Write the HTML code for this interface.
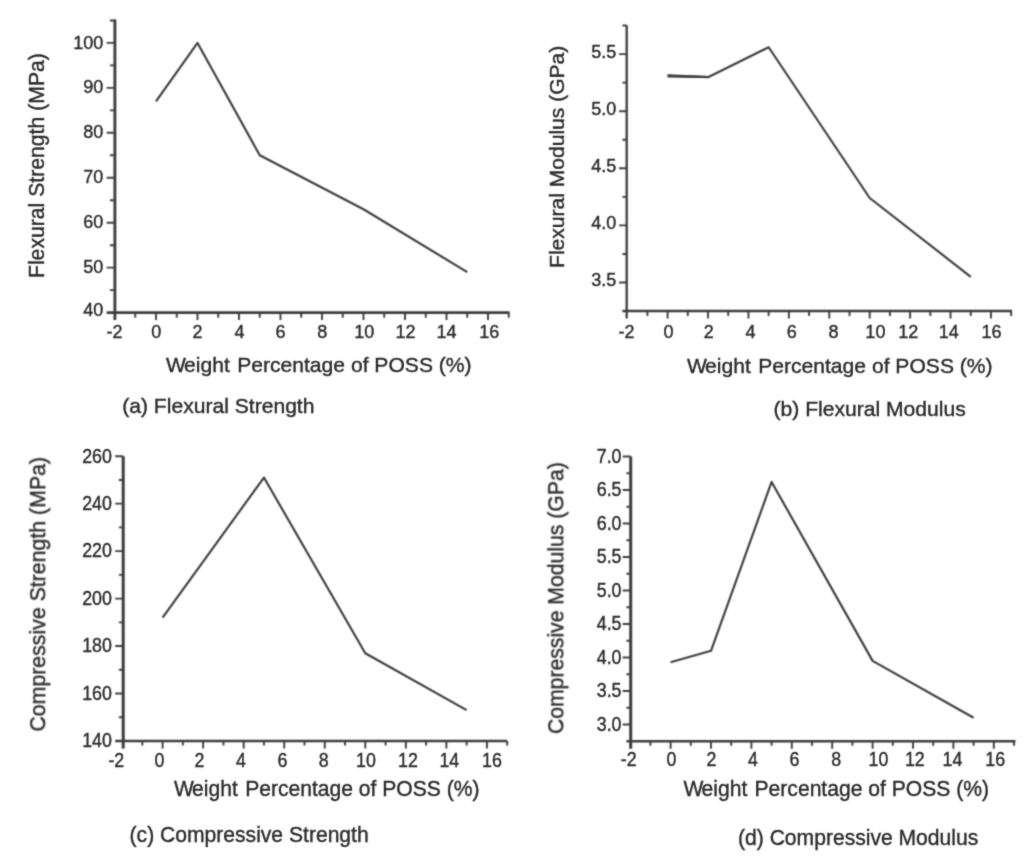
<!DOCTYPE html>
<html lang="en">
<head>
<meta charset="utf-8">
<title>Mechanical properties vs. weight percentage of POSS</title>
<style>
html,body{margin:0;padding:0;background:#fff;}
body{width:1024px;height:861px;overflow:hidden;}
svg{display:block;font-family:"Liberation Sans", Arial, Helvetica, sans-serif;}
.ax path{stroke:#3d3d3d;fill:none;stroke-linecap:butt;}
.dl{stroke:#3d3d3d;fill:none;stroke-linejoin:round;stroke-linecap:butt;}
.tk text{fill:#2a2a2a;stroke:#2a2a2a;stroke-width:0.38px;}
.lb{fill:#2a2a2a;stroke:#2a2a2a;stroke-width:0.38px;}
</style>
</head>
<body>
<svg width="1024" height="861" viewBox="0 0 1024 861">
<defs><filter id="soft" x="0" y="0" width="1024" height="861" filterUnits="userSpaceOnUse"><feConvolveMatrix order="3" kernelMatrix="0.0400 0.1200 0.0400 0.1200 0.3600 0.1200 0.0400 0.1200 0.0400" edgeMode="none"/></filter><filter id="softt" x="0" y="0" width="1024" height="861" filterUnits="userSpaceOnUse"><feConvolveMatrix order="3" kernelMatrix="0.0225 0.1050 0.0225 0.1050 0.4900 0.1050 0.0225 0.1050 0.0225" edgeMode="none"/></filter></defs>
<rect width="1024" height="861" fill="#ffffff"/>
<g filter="url(#soft)">
<g class="ax" stroke-width="2.9">
<path stroke-width="2.9" d="M114.9 19.5V320"/>
<path d="M106.7 312.6H509.5"/>
</g>
<g class="ax" stroke-width="1.9">
<path d="M106.7 267.65H114.9M106.7 222.7H114.9M106.7 177.75H114.9M106.7 132.8H114.9M106.7 87.85H114.9M106.7 42.9H114.9M109.9 290.12H114.9M109.9 245.18H114.9M109.9 200.23H114.9M109.9 155.28H114.9M109.9 110.33H114.9M109.9 65.38H114.9M109.9 20.43H114.9"/>
<path d="M156 312.6v7.4M197.5 312.6v7.4M239 312.6v7.4M280.5 312.6v7.4M322 312.6v7.4M363.5 312.6v7.4M405 312.6v7.4M446.5 312.6v7.4M488 312.6v7.4M135.25 312.6v5.2M176.75 312.6v5.2M218.25 312.6v5.2M259.75 312.6v5.2M301.25 312.6v5.2M342.75 312.6v5.2M384.25 312.6v5.2M425.75 312.6v5.2M467.25 312.6v5.2M508.75 312.6v5.2"/>
</g>
<polyline class="dl" stroke-width="2.15" points="156,101.34 197.5,42.9 259.75,155.28 363.5,209.22 467.25,272.15"/>
<g class="ax" stroke-width="2.3">
<path stroke-width="2.3" d="M626.7 25.3V318.4"/>
<path d="M622.4 311H1012"/>
</g>
<g class="ax" stroke-width="1.9">
<path d="M619.1 282.5H626.7M619.1 225.4H626.7M619.1 168.3H626.7M619.1 111.2H626.7M619.1 54.1H626.7M622.4 253.95H626.7M622.4 196.85H626.7M622.4 139.75H626.7M622.4 82.65H626.7M622.4 25.55H626.7"/>
<path d="M667.6 311v7.4M708.02 311v7.4M748.44 311v7.4M788.86 311v7.4M829.28 311v7.4M869.7 311v7.4M910.12 311v7.4M950.54 311v7.4M990.96 311v7.4M647.39 311v5M687.81 311v5M728.23 311v5M768.65 311v5M809.07 311v5M849.49 311v5M889.91 311v5M930.33 311v5M970.75 311v5M1011.17 311v5"/>
</g>
<polyline class="dl" stroke-width="2.15" points="667.6,75.8 708.02,77.17 768.65,47.25 869.7,197.99 970.75,276.79"/>
<path fill="#3d3d3d" d="M667.6 74.2L708 75.9L708 78L667.6 77.6Z"/>
<g class="ax" stroke-width="2.4">
<path stroke-width="3.0" d="M123.2 456.2V748.6"/>
<path d="M115.2 741H507"/>
</g>
<g class="ax" stroke-width="1.9">
<path d="M115.2 693.53H123.2M115.2 646.07H123.2M115.2 598.6H123.2M115.2 551.14H123.2M115.2 503.67H123.2M115.2 456.2H123.2M118.9 717.27H123.2M118.9 669.8H123.2M118.9 622.34H123.2M118.9 574.87H123.2M118.9 527.4H123.2M118.9 479.94H123.2"/>
<path d="M162.6 741v7.6M203.14 741v7.6M243.68 741v7.6M284.22 741v7.6M324.76 741v7.6M365.3 741v7.6M405.84 741v7.6M446.38 741v7.6M486.92 741v7.6M142.33 741v4.5M182.87 741v4.5M223.41 741v4.5M263.95 741v4.5M304.49 741v4.5M345.03 741v4.5M385.57 741v4.5M426.11 741v4.5M466.65 741v4.5M507.19 741v4.5"/>
</g>
<polyline class="dl" stroke-width="2.15" points="162.6,617.59 263.95,477.56 365.3,653.19 466.65,710.15"/>
<g class="ax" stroke-width="2.4">
<path stroke-width="3.0" d="M630.7 456.5V748.8"/>
<path d="M626.4 741.2H1015.5"/>
</g>
<g class="ax" stroke-width="1.9">
<path d="M622.7 724.5H630.7M622.7 691H630.7M622.7 657.5H630.7M622.7 624H630.7M622.7 590.5H630.7M622.7 557H630.7M622.7 523.5H630.7M622.7 490H630.7M622.7 456.5H630.7M626.4 707.75H630.7M626.4 674.25H630.7M626.4 640.75H630.7M626.4 607.25H630.7M626.4 573.75H630.7M626.4 540.25H630.7M626.4 506.75H630.7M626.4 473.25H630.7"/>
<path d="M670.6 741.2v7.6M711 741.2v7.6M751.4 741.2v7.6M791.8 741.2v7.6M832.2 741.2v7.6M872.6 741.2v7.6M913 741.2v7.6M953.4 741.2v7.6M993.8 741.2v7.6M650.4 741.2v4.5M690.8 741.2v4.5M731.2 741.2v4.5M771.6 741.2v4.5M812 741.2v4.5M852.4 741.2v4.5M892.8 741.2v4.5M933.2 741.2v4.5M973.6 741.2v4.5M1014 741.2v4.5"/>
</g>
<polyline class="dl" stroke-width="2.15" points="670.6,662.19 711,650.8 771.6,481.96 872.6,660.85 973.6,717.8"/>
</g>
<g filter="url(#softt)">
<g class="tk" text-anchor="end" font-size="19.2">
<text transform="translate(103.4 315.6) scale(0.94 1)">40</text>
<text transform="translate(103.4 273.25) scale(0.94 1)">50</text>
<text transform="translate(103.4 228.3) scale(0.94 1)">60</text>
<text transform="translate(103.4 183.35) scale(0.94 1)">70</text>
<text transform="translate(103.4 138.4) scale(0.94 1)">80</text>
<text transform="translate(103.4 93.45) scale(0.94 1)">90</text>
<text transform="translate(103.4 48.5) scale(0.94 1)">100</text>
</g>
<g class="tk" text-anchor="middle" font-size="19.2">
<text transform="translate(114.4 338.4) scale(0.94 1)">-2</text>
<text transform="translate(156.2 338.4) scale(0.94 1)">0</text>
<text transform="translate(197.4 338.4) scale(0.94 1)">2</text>
<text transform="translate(239.5 338.4) scale(0.94 1)">4</text>
<text transform="translate(280.5 338.4) scale(0.94 1)">6</text>
<text transform="translate(322.3 338.4) scale(0.94 1)">8</text>
<text transform="translate(364.3 338.4) scale(0.94 1)">10</text>
<text transform="translate(405.6 338.4) scale(0.94 1)">12</text>
<text transform="translate(446.6 338.4) scale(0.94 1)">14</text>
<text transform="translate(489.2 338.4) scale(0.94 1)">16</text>
</g>
<text class="lb" font-size="21.2" text-anchor="middle" transform="translate(44.1 165.6) rotate(-90)">Flexural Strength (MPa)</text>
<text class="lb" font-size="21.1" transform="translate(166 372.2)" dx="0 -1.5 0 0 0 0 1.5">Weight Percentage of POSS (%)</text>
<text class="lb" font-size="21.1" transform="translate(122.2 413.2)">(a) Flexural Strength</text>
<g class="tk" text-anchor="end" font-size="19.2">
<text transform="translate(616.4 286.1) scale(0.94 1)">3.5</text>
<text transform="translate(616.4 229) scale(0.94 1)">4.0</text>
<text transform="translate(616.4 171.9) scale(0.94 1)">4.5</text>
<text transform="translate(616.4 114.8) scale(0.94 1)">5.0</text>
<text transform="translate(616.4 57.7) scale(0.94 1)">5.5</text>
</g>
<g class="tk" text-anchor="middle" font-size="19.2">
<text transform="translate(626.5 338.4) scale(0.94 1)">-2</text>
<text transform="translate(668.4 338.4) scale(0.94 1)">0</text>
<text transform="translate(708.8 338.4) scale(0.94 1)">2</text>
<text transform="translate(750.6 338.4) scale(0.94 1)">4</text>
<text transform="translate(791.8 338.4) scale(0.94 1)">6</text>
<text transform="translate(833.5 338.4) scale(0.94 1)">8</text>
<text transform="translate(875.4 338.4) scale(0.94 1)">10</text>
<text transform="translate(908.2 338.4) scale(0.94 1)">12</text>
<text transform="translate(948.8 338.4) scale(0.94 1)">14</text>
<text transform="translate(991.6 338.4) scale(0.94 1)">16</text>
</g>
<text class="lb" font-size="21.05" text-anchor="middle" transform="translate(563.8 156.8) rotate(-90)">Flexural Modulus (GPa)</text>
<text class="lb" font-size="21.1" transform="translate(687 372.6)" dx="0 -1.5 0 0 0 0 1.5">Weight Percentage of POSS (%)</text>
<text class="lb" font-size="21.1" transform="translate(773.5 416)">(b) Flexural Modulus</text>
<g class="tk" text-anchor="end" font-size="20.0">
<text transform="translate(111.9 747.3) scale(0.89 1)">140</text>
<text transform="translate(111.9 699.83) scale(0.89 1)">160</text>
<text transform="translate(111.9 652.37) scale(0.89 1)">180</text>
<text transform="translate(111.9 604.9) scale(0.89 1)">200</text>
<text transform="translate(111.9 557.44) scale(0.89 1)">220</text>
<text transform="translate(111.9 509.97) scale(0.89 1)">240</text>
<text transform="translate(111.9 462.5) scale(0.89 1)">260</text>
</g>
<g class="tk" text-anchor="middle" font-size="20.0">
<text transform="translate(116.3 766.6) scale(0.89 1)">-2</text>
<text transform="translate(159.4 766.6) scale(0.89 1)">0</text>
<text transform="translate(199.5 766.6) scale(0.89 1)">2</text>
<text transform="translate(241 766.6) scale(0.89 1)">4</text>
<text transform="translate(282.4 766.6) scale(0.89 1)">6</text>
<text transform="translate(323.8 766.6) scale(0.89 1)">8</text>
<text transform="translate(366 766.6) scale(0.89 1)">10</text>
<text transform="translate(407.9 766.6) scale(0.89 1)">12</text>
<text transform="translate(449.3 766.6) scale(0.89 1)">14</text>
<text transform="translate(492 766.6) scale(0.89 1)">16</text>
</g>
<text class="lb" font-size="22.5" text-anchor="middle" transform="translate(45.2 594.3) rotate(-90) scale(0.947 1)">Compressive Strength (MPa)</text>
<text class="lb" font-size="22.5" transform="translate(174 795.6) scale(0.938 1)" dx="0 -1.5 0 0 0 0 1.5">Weight Percentage of POSS (%)</text>
<text class="lb" font-size="22.5" transform="translate(129.6 841.6) scale(0.938 1)">(c) Compressive Strength</text>
<g class="tk" text-anchor="end" font-size="20.0">
<text transform="translate(621.5 730.8) scale(0.89 1)">3.0</text>
<text transform="translate(621.5 697.3) scale(0.89 1)">3.5</text>
<text transform="translate(621.5 663.8) scale(0.89 1)">4.0</text>
<text transform="translate(621.5 630.3) scale(0.89 1)">4.5</text>
<text transform="translate(621.5 596.8) scale(0.89 1)">5.0</text>
<text transform="translate(621.5 563.3) scale(0.89 1)">5.5</text>
<text transform="translate(621.5 529.8) scale(0.89 1)">6.0</text>
<text transform="translate(621.5 496.3) scale(0.89 1)">6.5</text>
<text transform="translate(621.5 462.8) scale(0.89 1)">7.0</text>
</g>
<g class="tk" text-anchor="middle" font-size="20.0">
<text transform="translate(628.7 766.4) scale(0.89 1)">-2</text>
<text transform="translate(671.4 766.4) scale(0.89 1)">0</text>
<text transform="translate(711.5 766.4) scale(0.89 1)">2</text>
<text transform="translate(753 766.4) scale(0.89 1)">4</text>
<text transform="translate(794.4 766.4) scale(0.89 1)">6</text>
<text transform="translate(836.3 766.4) scale(0.89 1)">8</text>
<text transform="translate(878.4 766.4) scale(0.89 1)">10</text>
<text transform="translate(914.8 766.4) scale(0.89 1)">12</text>
<text transform="translate(952.5 766.4) scale(0.89 1)">14</text>
<text transform="translate(995.2 766.4) scale(0.89 1)">16</text>
</g>
<text class="lb" font-size="22.5" text-anchor="middle" transform="translate(563.3 598.1) rotate(-90) scale(0.942 1)">Compressive Modulus (GPa)</text>
<text class="lb" font-size="22.5" transform="translate(683.4 795.6) scale(0.938 1)" dx="0 -1.5 0 0 0 0 1.5">Weight Percentage of POSS (%)</text>
<text class="lb" font-size="22.5" transform="translate(738 845.3) scale(0.938 1)">(d) Compressive Modulus</text>
</g>
</svg>
</body>
</html>
